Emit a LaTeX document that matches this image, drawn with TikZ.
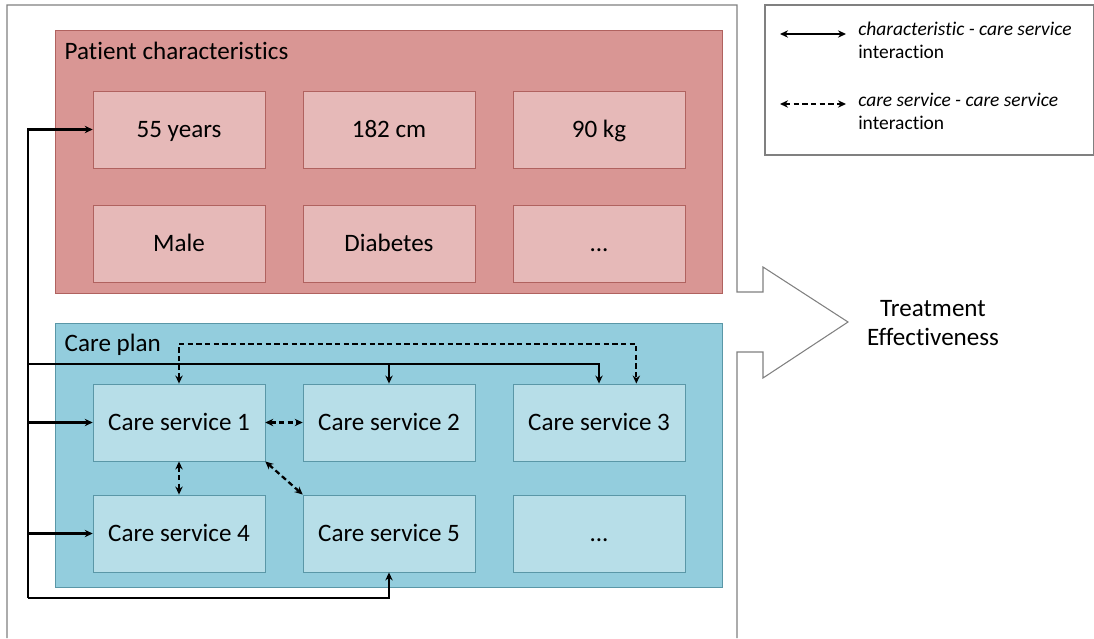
\documentclass[tikz,border=0pt]{standalone}
\usepackage{fontspec}
\setmainfont{Carlito}[Ligatures=NoCommon]
\usetikzlibrary{arrows.meta}

\definecolor{redgrp}{HTML}{D99694}
\definecolor{redbox}{HTML}{E6B9B8}
\definecolor{redline}{HTML}{B0625F}
\definecolor{bluegrp}{HTML}{93CDDD}
\definecolor{bluebox}{HTML}{B7DEE8}
\definecolor{blueline}{HTML}{5A97A7}
\definecolor{frame}{HTML}{808080}

\begin{document}
\begin{tikzpicture}[x=0.75pt,y=-0.75pt,
  every node/.style={font=\fontsize{18.8}{22}\selectfont},
  redgroup/.style={draw=redline,fill=redgrp,minimum width=500pt,minimum height=197pt,inner sep=0pt},
  bluegroup/.style={draw=blueline,fill=bluegrp,minimum width=500pt,minimum height=198pt,inner sep=0pt},
  charbox/.style={draw=redline,fill=redbox,minimum width=129pt,minimum height=58pt,inner sep=0pt,text height=14pt,text depth=1.5pt},
  servbox/.style={draw=blueline,fill=bluebox,minimum width=129pt,minimum height=58pt,inner sep=0pt,text height=14pt,text depth=1.5pt},
  link/.style={line width=1.7pt,-{Stealth[length=6pt,width=5.5pt]}},
  duallink/.style={line width=1.7pt,{Stealth[length=6pt,width=5.5pt]}-{Stealth[length=6pt,width=5.5pt]}},
  dashlink/.style={duallink,dash pattern=on 4pt off 2.5pt},
  legend/.style={font=\fontsize{14.6}{17.4}\selectfont,align=left,anchor=north west,inner sep=0pt}]
  \useasboundingbox (0,0) rectangle (1094,638);

  % big arrow
  \draw[frame,line width=0.8pt] (7,638) -- (7,5) -- (737,5) -- (737,292) -- (763,292) -- (763,267)
    -- (848,322) -- (763,378) -- (763,352) -- (737,352) -- (737,638);
  \node[align=center] (effect) at (933,323) {Treatment\\Effectiveness};

  % legend
  \draw[frame,line width=0.8pt] (765,5) rectangle (1093.5,155);
  \coordinate (K-1a) at (780,34);
  \coordinate (K-1b) at (846,34);
  \coordinate (K-2a) at (780,104);
  \coordinate (K-2b) at (846,104);
  \draw[duallink] (K-1a) -- (K-1b);
  \draw[dashlink] (K-2a) -- (K-2b);
  \node[legend] (key-1) at (858,22) {\textit{characteristic - care service}\\interaction};
  \node[legend] (key-2) at (858,93) {\textit{care service - care service}\\interaction};

  % patient characteristics
  \node[redgroup] (P) at (388.5,161.5) {};
  \node[anchor=west] (P-title) at (60,51) {Patient characteristics};
  \node[charbox] (P-1) at (179,129.5) {55 years};
  \node[charbox] (P-2) at (389,129.5) {182 cm};
  \node[charbox] (P-3) at (599,129.5) {90 kg};
  \node[charbox] (P-4) at (179,243.5) {Male};
  \node[charbox] (P-5) at (389,243.5) {Diabetes};
  \node[charbox] (P-6) at (599,243.5) {...};

  % care plan
  \node[bluegroup] (C) at (388.5,455) {};
  \node[anchor=west] (C-title) at (60,345) {Care plan};
  \node[servbox] (S-1) at (179,422.5) {Care service 1};
  \node[servbox] (S-2) at (389,422.5) {Care service 2};
  \node[servbox] (S-3) at (599,422.5) {Care service 3};
  \node[servbox] (S-4) at (179,533.5) {Care service 4};
  \node[servbox] (S-5) at (389,533.5) {Care service 5};
  \node[servbox] (S-6) at (599,533.5) {...};

  % characteristic - care service
  \coordinate (bus) at (28,598);
  \coordinate (rail) at (28,364);
  \draw[link] (bus) -- (bus -| S-5.south) -- (S-5.south);
  \draw[link] (bus) -- (bus |- P-1.west) -- (P-1.west);
  \draw[link] (bus |- S-1.west) -- (S-1.west);
  \draw[link] (bus |- S-4.west) -- (S-4.west);
  \draw[link] (rail) -- (rail -| S-3.north) -- (S-3.north);
  \draw[link] (rail -| S-2.north) -- (S-2.north);

  % care service - care service
  \coordinate (top) at (0,344);
  \draw[dashlink] (S-1.north) -- (top -| S-1.north) -- ([xshift=28]top -| S-3.north) -- ([xshift=28]S-3.north);
  \draw[dashlink] (S-1.east) -- (S-2.west);
  \draw[dashlink] (S-1.south) -- (S-4.north);
  \draw[dashlink] (S-1.south east) -- (S-5.north west);
\end{tikzpicture}
\end{document}
